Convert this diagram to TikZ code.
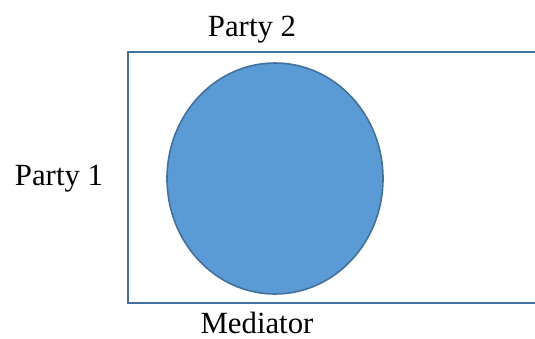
\documentclass[tikz,border=0pt]{standalone}
\usepackage{fontspec}
\setmainfont{Liberation Serif}
\usetikzlibrary{shapes.geometric}
\definecolor{edgeblue}{HTML}{41719C}
\definecolor{fillblue}{HTML}{5B9BD5}
\tikzset{
  lbl/.style={anchor=base, inner sep=0pt, text depth=0pt, font=\fontsize{30.8bp}{36bp}\selectfont},
  frame/.style={draw=edgeblue, line width=2.2bp},
  blob/.style={draw=edgeblue, fill=fillblue, line width=1.6bp}
}
\begin{document}
\begin{tikzpicture}[x=1bp, y=-1bp]
\useasboundingbox (0,0) rectangle (535,338);
\begin{scope}
\clip (0,0) rectangle (535,338);
\draw[frame] (545,52) -- (128,52) -- (128,303) -- (545,303);
\end{scope}
\path[blob] (275,178.5) ellipse [x radius=108, y radius=115.5];
\node[lbl] (p2) at (252,36) {Party 2};
\node[lbl] (p1) at (59,185) {Party 1};
\node[lbl] (med) at (257,333) {Mediator};
\end{tikzpicture}
\end{document}
